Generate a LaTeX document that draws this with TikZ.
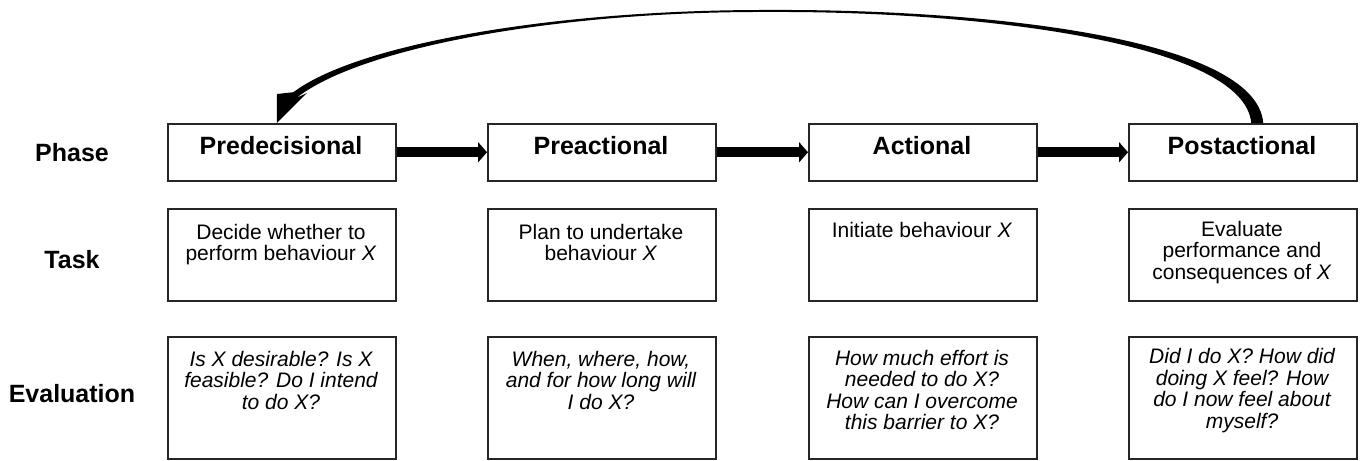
\documentclass[tikz,border=0pt]{standalone}
\usepackage{fontspec}
\setmainfont{Liberation Sans}
\usetikzlibrary{arrows.meta,calc}
\begin{document}
\begin{tikzpicture}[x=0.5pt,y=-0.5pt,
  boxbase/.style={draw=black!85, line width=0.75pt, inner sep=0pt, anchor=north west, minimum width=114pt},
  phasebox/.style={boxbase, minimum height=28.5pt},
  taskbox/.style={boxbase, minimum height=46pt},
  evalbox/.style={boxbase, minimum height=61pt},
  rowlabel/.style={font=\bfseries\fontsize{12.5}{15}\selectfont, inner sep=0pt, anchor=base},
  phasetext/.style={font=\bfseries\fontsize{12.5}{15}\selectfont, inner sep=0pt, anchor=base},
  tasktext/.style={font=\fontsize{10.5}{10.75}\selectfont, align=center, inner sep=0pt, anchor=base},
  evaltext/.style={font=\itshape\fontsize{10.5}{10.75}\selectfont, align=center, inner sep=0pt, anchor=base},
  flow/.style={line width=5pt, -{Triangle[length=4.5pt,width=10pt]}}
]
\useasboundingbox (0,0) rectangle (1363,460);

% row labels
\node[rowlabel] (lphase) at (72,161) {Phase};
\node[rowlabel] (ltask) at (72,268) {Task};
\node[rowlabel] (leval) at (72,402) {Evaluation};

% phase boxes
\node[phasebox] (ph1) at (167,123) {};
\node[phasebox] (ph2) at (487,123) {};
\node[phasebox] (ph3) at (808,123) {};
\node[phasebox] (ph4) at (1128,123) {};
\node[phasetext] (pt1) at (281,154) {Predecisional};
\node[phasetext] (pt2) at (601,154) {Preactional};
\node[phasetext] (pt3) at (922,154) {Actional};
\node[phasetext] (pt4) at (1242,154) {Postactional};

% task boxes (anchor=base is the last line's baseline)
\node[taskbox] (tb1) at (167,208) {};
\node[taskbox] (tb2) at (487,208) {};
\node[taskbox] (tb3) at (808,208) {};
\node[taskbox] (tb4) at (1128,208) {};
\node[tasktext] (tt1) at (281,260.5) {Decide whether to\\perform behaviour \textit{X}};
\node[tasktext] (tt2) at (601,260.5) {Plan to undertake\\behaviour \textit{X}};
\node[tasktext] (tt3) at (922,237) {Initiate behaviour \textit{X}};
\node[tasktext] (tt4) at (1242,279) {Evaluate\\performance and\\consequences of \textit{X}};

% evaluation boxes
\node[evalbox] (eb1) at (167,336) {};
\node[evalbox] (eb2) at (487,336) {};
\node[evalbox] (eb3) at (808,336) {};
\node[evalbox] (eb4) at (1128,336) {};
\node[evaltext] (et1) at (281,409) {Is X desirable? Is X\\feasible? Do I intend\\to do X?};
\node[evaltext] (et2) at (601,409) {When, where, how,\\and for how long will\\I do X?};
\node[evaltext] (et3) at (922,429.5) {How much effort is\\needed to do X?\\How can I overcome\\this barrier to X?};
\node[evaltext] (et4) at (1242,428) {Did I do X? How did\\doing X feel? How\\do I now feel about\\myself?};

% straight arrows
\draw[flow] (ph1.east) -- (ph2.west);
\draw[flow] (ph2.east) -- (ph3.west);
\draw[flow] (ph3.east) -- (ph4.west);

% tapered feedback arrow
\fill ($(ph4.north)+(20.5,0)$) .. controls (1256,37) and (980,9) .. (770,10)
  .. controls (560,9.4) and (358.7,43) .. (293.4,92.2)
  -- (277,94) -- ($(ph1.north)+(-5,0)$) -- (307,93) -- (296.6,97.8)
  .. controls (361.3,47) and (560,11) .. (770,12)
  .. controls (980,11) and (1244,43) .. ($(ph4.north)+(8.5,0)$) -- cycle;
\end{tikzpicture}
\end{document}
